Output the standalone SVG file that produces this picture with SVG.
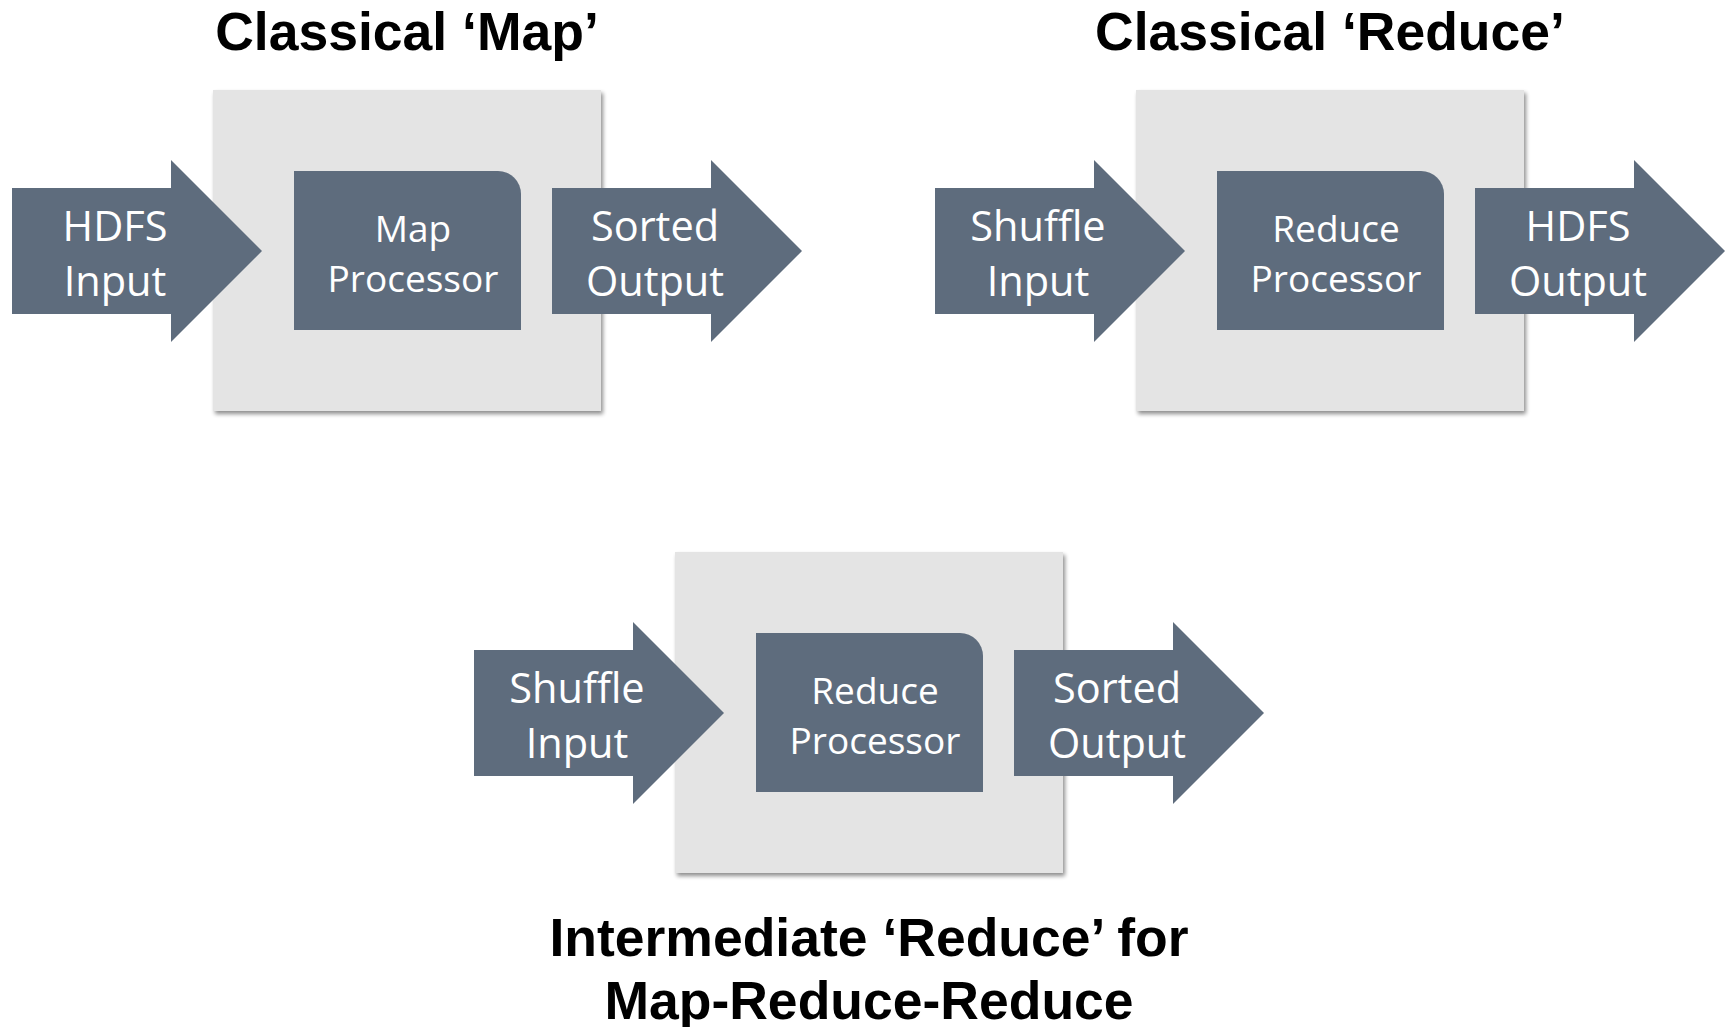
<svg xmlns="http://www.w3.org/2000/svg" width="1731" height="1027" viewBox="0 0 1731 1027">
  <style>
    .title { font-family: "Liberation Sans", Arial, sans-serif; font-weight: bold; font-size: 53.5px; fill: #000; text-anchor: middle; }
    .panel { fill: #E4E4E4; }
    .shape { fill: #5E6C7D; }
    .lbl { font-family: "Open Sans", "Noto Sans", sans-serif; font-size: 41.5px; fill: #FFFFFF; text-anchor: middle; }
    .plbl { font-family: "Open Sans", "Noto Sans", sans-serif; font-size: 37px; fill: #FFFFFF; text-anchor: middle; }
  </style>
  <defs>
    <filter id="shadow" x="-5%" y="-5%" width="112%" height="112%">
      <feGaussianBlur in="SourceAlpha" stdDeviation="2"/>
      <feOffset dx="2" dy="3" result="b"/>
      <feComponentTransfer><feFuncA type="linear" slope="0.45"/></feComponentTransfer>
      <feMerge><feMergeNode/><feMergeNode in="SourceGraphic"/></feMerge>
    </filter>
    <path id="arrow" d="M0,188 H159 V160 L250,251 L159,342 V314 H0 Z"/>
    <path id="proc" d="M0,171 H204 A23,23 0 0 1 227,194 V330 H0 Z"/>
  </defs>

  <rect width="1731" height="1027" fill="#FFFFFF"/>

  <g id="map-group">
    <text class="title" x="407" y="50">Classical ‘Map’</text>
    <rect id="map-panel" class="panel" x="213" y="90" width="388" height="321" filter="url(#shadow)"/>
    <g id="map-processor">
      <use href="#proc" class="shape" x="294"/>
      <text class="plbl" x="413" y="242">Map</text>
      <text class="plbl" x="413" y="292">Processor</text>
    </g>
  </g>

  <g id="reduce-group">
    <text class="title" x="1330" y="50">Classical ‘Reduce’</text>
    <rect id="reduce-panel" class="panel" x="1136" y="90" width="388" height="321" filter="url(#shadow)"/>
    <g id="reduce-processor">
      <use href="#proc" class="shape" x="1217"/>
      <text class="plbl" x="1336" y="242">Reduce</text>
      <text class="plbl" x="1336" y="292">Processor</text>
    </g>
  </g>

  <g id="intermediate-group">
    <rect id="inter-panel" class="panel" x="675" y="552" width="388" height="321" filter="url(#shadow)"/>
    <g id="inter-processor">
      <use href="#proc" class="shape" x="756" y="462"/>
      <text class="plbl" x="875" y="704">Reduce</text>
      <text class="plbl" x="875" y="754">Processor</text>
    </g>
    <text class="title" x="869" y="956">Intermediate ‘Reduce’ for</text>
    <text class="title" x="869" y="1019">Map-Reduce-Reduce</text>
  </g>

  <g id="connectors">
    <g id="hdfs-input">
      <use href="#arrow" class="shape" x="12"/>
      <text class="lbl" x="115" y="241">HDFS</text>
      <text class="lbl" x="115" y="296">Input</text>
    </g>
    <g id="sorted-output-1">
      <use href="#arrow" class="shape" x="552"/>
      <text class="lbl" x="655" y="241">Sorted</text>
      <text class="lbl" x="655" y="296">Output</text>
    </g>
    <g id="shuffle-input-1">
      <use href="#arrow" class="shape" x="935"/>
      <text class="lbl" x="1038" y="241">Shuffle</text>
      <text class="lbl" x="1038" y="296">Input</text>
    </g>
    <g id="hdfs-output">
      <use href="#arrow" class="shape" x="1475"/>
      <text class="lbl" x="1578" y="241">HDFS</text>
      <text class="lbl" x="1578" y="296">Output</text>
    </g>
    <g id="shuffle-input-2">
      <use href="#arrow" class="shape" x="474" y="462"/>
      <text class="lbl" x="577" y="703">Shuffle</text>
      <text class="lbl" x="577" y="758">Input</text>
    </g>
    <g id="sorted-output-2">
      <use href="#arrow" class="shape" x="1014" y="462"/>
      <text class="lbl" x="1117" y="703">Sorted</text>
      <text class="lbl" x="1117" y="758">Output</text>
    </g>
  </g>
</svg>
